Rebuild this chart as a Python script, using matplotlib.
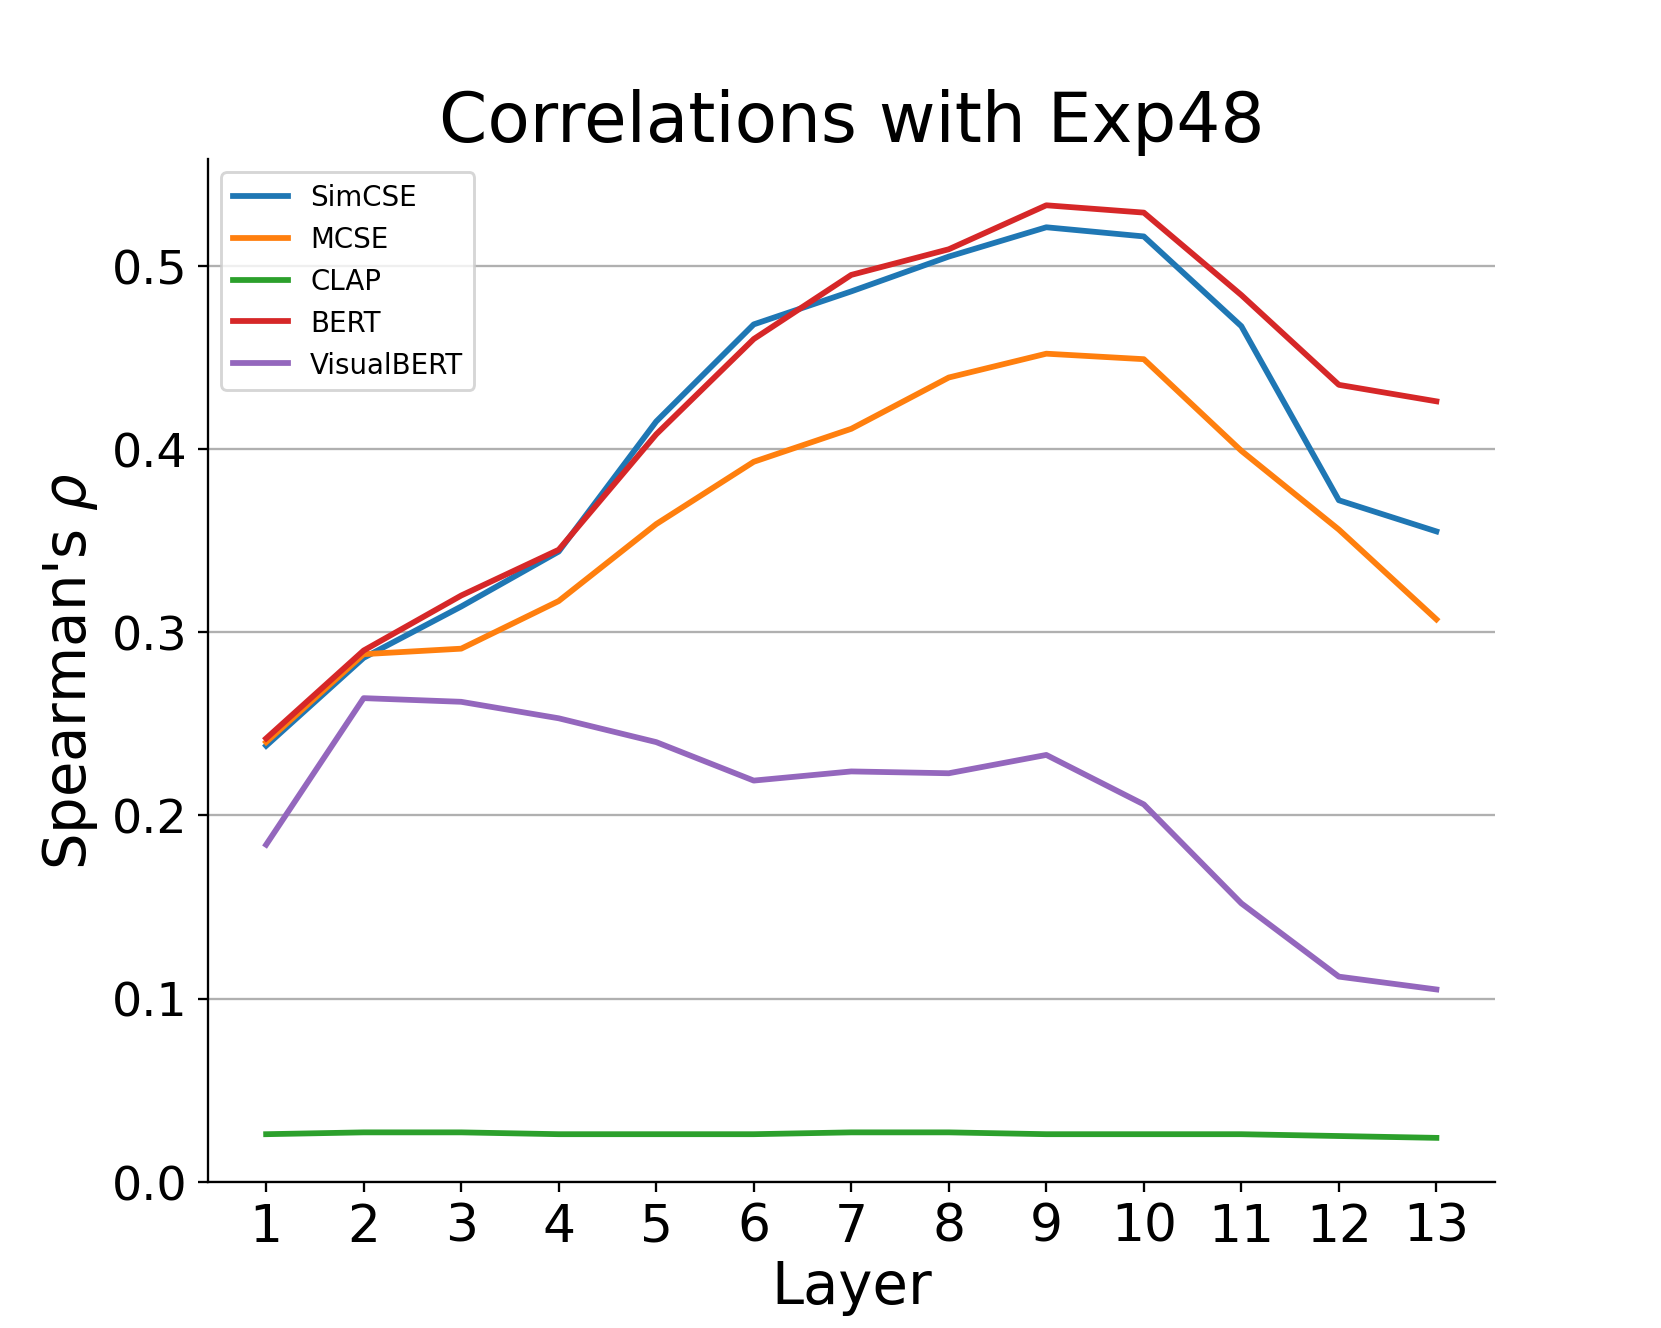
import matplotlib
matplotlib.use('Agg')
import matplotlib.pyplot as plt
import numpy as np

layers = np.arange(1, 14)
simcse = [0.238, 0.286, 0.314, 0.344, 0.415, 0.468, 0.486, 0.505, 0.521, 0.516, 0.467, 0.372, 0.355]
mcse = [0.240, 0.288, 0.291, 0.317, 0.359, 0.393, 0.411, 0.439, 0.452, 0.449, 0.399, 0.356, 0.307]
clap = [0.026, 0.027, 0.027, 0.026, 0.026, 0.026, 0.027, 0.027, 0.026, 0.026, 0.026, 0.025, 0.024]
bert = [0.242, 0.290, 0.320, 0.345, 0.408, 0.460, 0.495, 0.509, 0.533, 0.529, 0.484, 0.435, 0.426]
visualbert = [0.184, 0.264, 0.262, 0.253, 0.240, 0.219, 0.224, 0.223, 0.233, 0.206, 0.152, 0.112, 0.105]

fig, ax = plt.subplots(figsize=(8, 6.4), dpi=207.625)

ax.plot(layers, simcse, label='SimCSE', lw=2)
ax.plot(layers, mcse, label='MCSE', lw=2)
ax.plot(layers, clap, label='CLAP', lw=2)
ax.plot(layers, bert, label='BERT', lw=2)
ax.plot(layers, visualbert, label='VisualBERT', lw=2)

ax.set_ylim(bottom=0)
ax.set_xticks(layers)
ax.tick_params(axis='x', labelsize=18)
ax.tick_params(axis='y', labelsize=16.5)
ax.yaxis.grid(True)
ax.set_axisbelow(True)
ax.spines['top'].set_visible(False)
ax.spines['right'].set_visible(False)

ax.set_title('Correlations with Exp48', fontsize=24)
ax.set_xlabel('Layer', fontsize=20, labelpad=2)
ax.set_ylabel(r"Spearman's $\rho$", fontsize=20)
ax.legend(loc='upper left', fontsize=9.6)

plt.savefig('out.png', dpi=207.625)
